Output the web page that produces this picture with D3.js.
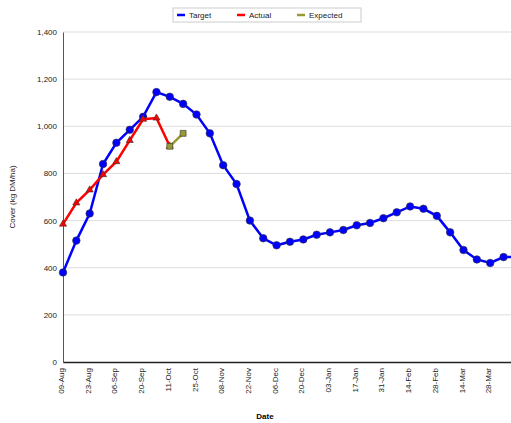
<!DOCTYPE html>
<html><head><meta charset="utf-8">
<script src="https://cdn.jsdelivr.net/npm/d3@7"></script>
<style>body{margin:0;background:#fff}text{font-family:"Liberation Sans",Arial,sans-serif}</style>
</head><body><svg id="c" width="511" height="423"></svg>
<script>
const categories=["09-Aug","16-Aug","23-Aug","30-Aug","06-Sep","13-Sep","20-Sep","27-Sep","11-Oct","18-Oct","25-Oct","01-Nov","08-Nov","15-Nov","22-Nov","29-Nov","06-Dec","13-Dec","20-Dec","27-Dec","03-Jan","10-Jan","17-Jan","24-Jan","31-Jan","07-Feb","14-Feb","21-Feb","28-Feb","07-Mar","14-Mar","21-Mar","28-Mar","04-Apr","11-Apr","18-Apr"];
const target=[380,515,630,840,930,985,1040,1145,1125,1095,1050,970,835,755,600,525,495,510,520,540,550,560,580,590,610,635,660,650,620,550,475,435,420,445,445,445];
const actual=[585,675,730,795,850,940,1030,1035,915];
const expected=[null,null,null,null,null,null,null,null,915,970];
const yTicks=[0,200,400,600,800,1000,1200,1400];
const svg=d3.select("#c");
const x=d3.scalePoint().domain(categories).range([63,63+35*13.35]);
const y=d3.scaleLinear().domain([0,1400]).range([362,32]);
svg.append("g").selectAll("line").data(yTicks.slice(1)).join("line")
 .attr("x1",63).attr("x2",511).attr("y1",d=>y(d)).attr("y2",d=>y(d)).attr("stroke","#ddd");
const ya=svg.append("g").attr("transform","translate(63,0)").call(d3.axisLeft(y).tickValues(yTicks).tickFormat(d3.format(",")).tickSize(0).tickPadding(6));
ya.select(".domain").attr("stroke","#555");
ya.selectAll("text").attr("font-size",8).attr("fill","#222");
const xa=svg.append("g").attr("transform","translate(0,362)").call(d3.axisBottom(x).tickValues(categories.filter((d,i)=>i%2==0)).tickSize(0));
xa.select(".domain").attr("stroke","#222").attr("stroke-width",1.5);
xa.selectAll("text").attr("font-size",8).attr("fill","#222").attr("text-anchor","end")
 .attr("transform","rotate(-90)").attr("dx","-6").attr("dy","-0.2em").attr("x",0).attr("y",0).style("dominant-baseline","middle");
svg.append("text").attr("x",265).attr("y",419).attr("text-anchor","middle").attr("font-size",8).attr("font-weight","bold").attr("fill","#000").text("Date");
svg.append("text").attr("transform","translate(15,197) rotate(-90)").attr("text-anchor","middle").attr("font-size",8).attr("fill","#222").text("Cover (kg DM/ha)");
function series(data,color,shape,size){
 const pts=data.map((v,i)=>[categories[i],v]).filter(d=>d[1]!=null);
 svg.append("path").datum(pts).attr("fill","none").attr("stroke",color).attr("stroke-width",2.5)
  .attr("d",d3.line().x(d=>x(d[0])).y(d=>y(d[1])));
 svg.append("g").selectAll("path").data(pts).join("path")
  .attr("transform",d=>`translate(${x(d[0])},${y(d[1])})`)
  .attr("d",d3.symbol(shape,size)).attr("fill",color).attr("stroke","#333").attr("stroke-width",0.6);
}
series(target,"#0000ff",d3.symbolCircle,45);
series(actual,"#ff0000",d3.symbolTriangle,22);
series(expected,"#999933",d3.symbolSquare,35);
const lg=svg.append("g");
lg.append("rect").attr("x",173).attr("y",8).attr("width",188).attr("height",14).attr("fill","#fff").attr("stroke","#ccc");
[["Target","#0000ff",177],["Actual","#ff0000",237],["Expected","#999933",297]].forEach(([t,c,xx])=>{
 lg.append("line").attr("x1",xx).attr("x2",xx+8).attr("y1",15).attr("y2",15).attr("stroke",c).attr("stroke-width",2.5);
 lg.append("text").attr("x",xx+12).attr("y",18).attr("font-size",8).attr("fill","#222").text(t);
});
</script></body></html>
